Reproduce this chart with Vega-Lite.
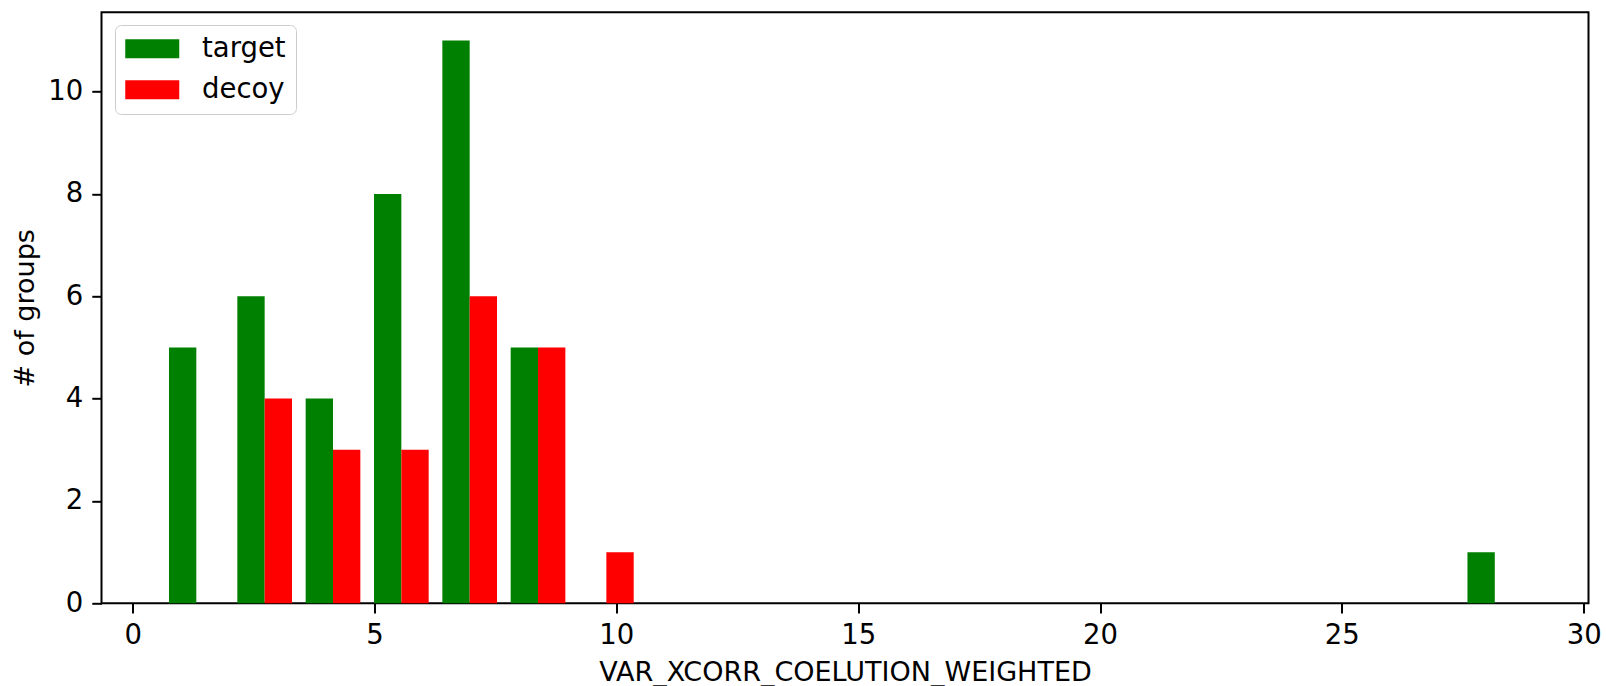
{
  "$schema": "https://vega.github.io/schema/vega-lite/v6.json",
  "autosize": "none",
  "width": 1487,
  "height": 591,
  "padding": {"left": 101.5, "top": 12.3, "right": 17.5, "bottom": 82.7},
  "background": "white",
  "config": {
    "font": "DejaVu Sans",
    "view": {"stroke": "black", "strokeWidth": 2},
    "axis": {
      "grid": false,
      "domain": false,
      "tickColor": "black",
      "tickWidth": 2,
      "tickSize": 9.7,
      "labelFont": "DejaVu Sans",
      "labelFontSize": 27.5,
      "labelColor": "black",
      "titleFont": "DejaVu Sans",
      "titleFontSize": 27,
      "titleFontWeight": "normal",
      "titleColor": "black"
    },
    "legend": {
      "fillColor": "white",
      "strokeColor": "#cccccc",
      "cornerRadius": 6,
      "padding": 10
    }
  },
  "data": {
    "values": [
      {"bin_start": 0.609, "bin_end": 2.022, "group": "target", "count": 5},
      {"bin_start": 2.022, "bin_end": 3.435, "group": "target", "count": 6},
      {"bin_start": 2.022, "bin_end": 3.435, "group": "decoy", "count": 4},
      {"bin_start": 3.435, "bin_end": 4.848, "group": "target", "count": 4},
      {"bin_start": 3.435, "bin_end": 4.848, "group": "decoy", "count": 3},
      {"bin_start": 4.848, "bin_end": 6.261, "group": "target", "count": 8},
      {"bin_start": 4.848, "bin_end": 6.261, "group": "decoy", "count": 3},
      {"bin_start": 6.261, "bin_end": 7.674, "group": "target", "count": 11},
      {"bin_start": 6.261, "bin_end": 7.674, "group": "decoy", "count": 6},
      {"bin_start": 7.674, "bin_end": 9.087, "group": "target", "count": 5},
      {"bin_start": 7.674, "bin_end": 9.087, "group": "decoy", "count": 5},
      {"bin_start": 9.087, "bin_end": 10.5, "group": "decoy", "count": 1},
      {"bin_start": 27.456, "bin_end": 28.869, "group": "target", "count": 1}
    ]
  },
  "transform": [
    {"calculate": "datum.bin_end - datum.bin_start", "as": "bw"},
    {"calculate": "datum.bin_start + 0.1 * datum.bw + (datum.group === 'decoy' ? 0.4 * datum.bw : 0)", "as": "x0"},
    {"calculate": "datum.x0 + 0.4 * datum.bw", "as": "x1"}
  ],
  "mark": {"type": "bar", "cornerRadius": 0},
  "encoding": {
    "x": {
      "field": "x0",
      "type": "quantitative",
      "scale": {"domain": [-0.645, 30.1], "nice": false, "zero": false},
      "axis": {
        "title": "VAR_XCORR_COELUTION_WEIGHTED",
        "values": [0, 5, 10, 15, 20, 25, 30],
        "labelPadding": 8.9,
        "titlePadding": 10,
        "labelFlush": false
      }
    },
    "x2": {"field": "x1"},
    "y": {
      "field": "count",
      "type": "quantitative",
      "scale": {"domain": [0, 11.55], "nice": false},
      "axis": {
        "title": "# of groups",
        "values": [0, 2, 4, 6, 8, 10],
        "labelPadding": 9,
        "titlePadding": 8.5
      }
    },
    "y2": {"datum": 0},
    "color": {
      "field": "group",
      "type": "nominal",
      "scale": {"domain": ["target", "decoy"], "range": ["#008000", "#ff0000"]},
      "legend": {
        "title": null,
        "orient": "none",
        "legendX": 13.5,
        "legendY": 12.7,
        "symbolType": "M-2,-0.7L2,-0.7L2,0.7L-2,0.7Z",
        "symbolSize": 729,
        "symbolOffset": 13.5,
        "symbolStrokeWidth": 0,
        "labelOffset": 36,
        "labelFont": "DejaVu Sans",
        "labelFontSize": 27.5,
        "labelColor": "black",
        "rowPadding": 12
      }
    }
  }
}
